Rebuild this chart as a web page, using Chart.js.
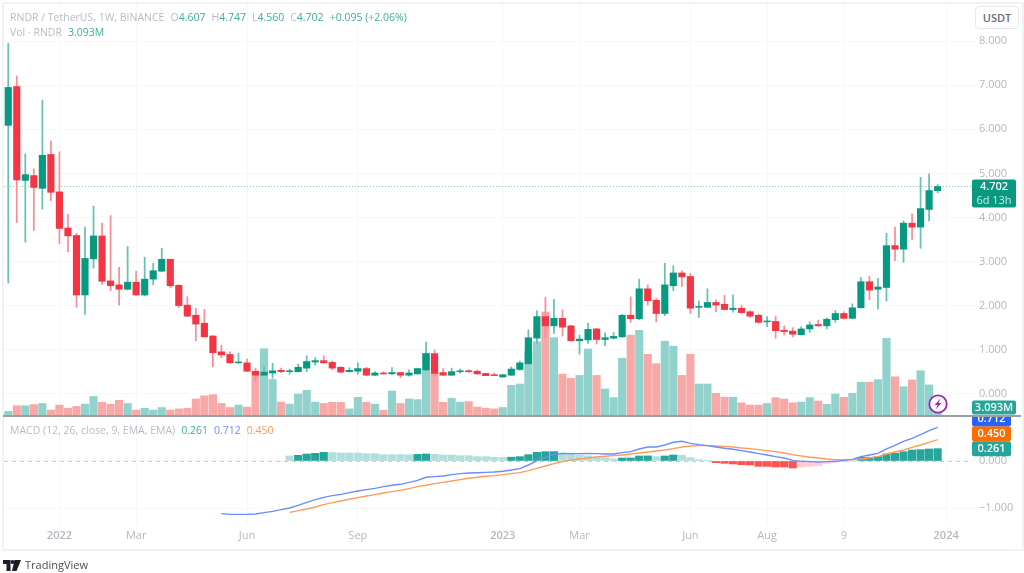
<!DOCTYPE html>
<html>
<head>
<meta charset="utf-8">
<title>RNDR / TetherUS</title>
<script src="https://cdn.jsdelivr.net/npm/chart.js@4"></script>
<style>
  html, body { margin: 0; padding: 0; background: #fff; overflow: hidden; }
  #page { position: relative; width: 1024px; height: 573px; font-family: "Open Sans", sans-serif; filter: blur(0.35px); }
  canvas { position: absolute; left: 0; }
  #priceChart { top: 0; }
  #macdChart { top: 416px; }
  .frame { position: absolute; left: 2px; top: 2px; width: 1018px; height: 545px; border: 2px solid #f1f2f5; box-sizing: content-box; }
  .sep { position: absolute; left: 3px; top: 415px; width: 1018px; height: 2px; background: #9b9ea5; }
  .legend { position: absolute; left: 10px; font-size: 10.5px; color: #b8bbc3; white-space: nowrap; }
  .legend b { font-weight: 400; color: #3fae9f; }
  .legend span { margin-left: 6px; }
  .usdt { position: absolute; left: 975px; top: 6px; width: 42px; height: 21px; line-height: 21px; text-align: center; font-size: 11px; font-weight: 600; color: #6a6d78; border: 1px solid #e6e8ee; border-radius: 4px; background: #fff; }
  .tv { position: absolute; left: 25px; top: 557px; font-size: 11px; color: #4a4e59; }
  svg { position: absolute; }
</style>
</head>
<body>
<div id="page">
  <canvas id="priceChart" width="1024" height="416"></canvas>
  <canvas id="macdChart" width="1024" height="133"></canvas>
  <div class="frame"></div>
  <div class="sep"></div>
  <div class="legend" style="top:10px">RNDR / TetherUS, 1W, BINANCE<span>O<b>4.607</b></span><span>H<b>4.747</b></span><span>L<b>4.560</b></span><span>C<b>4.702</b></span><span><b>+0.095 (+2.06%)</b></span></div>
  <div class="legend" style="top:25px">Vol · RNDR<span><b>3.093M</b></span></div>
  <div class="legend" style="top:423px">MACD (12, 26, close, 9, EMA, EMA)<span><b>0.261</b></span><span><b style="color:#6f8ffb">0.712</b></span><span><b style="color:#fb9a5b">0.450</b></span></div>
  <div class="usdt">USDT</div>
  <svg style="left:927px;top:393px" width="22" height="22" viewBox="0 0 22 22">
    <circle cx="11" cy="11" r="8.7" fill="#fff" stroke="#9c27b0" stroke-width="1.8"/>
    <path d="M13.5 5.5 L7.5 12 L10.6 12 L8.6 16.5 L14.5 10 L11.4 10 Z" fill="#9c27b0"/>
  </svg>
  <svg style="left:3px;top:560px" width="18" height="11" viewBox="0 0 36 22">
    <path d="M0 0 H15 V22 H7 V8 H0 Z M23 0 H36 L27 22 H18 Z" fill="#1b1e26"/><circle cx="19" cy="4" r="4" fill="#1b1e26"/>
  </svg>
  <div class="tv">TradingView</div>
</div>

<script>
// weekly candles
const opens = [6.09,6.97,4.84,4.95,4.66,5.43,4.58,3.76,3.59,2.24,
  3.06,3.58,2.56,2.47,2.37,2.53,2.24,2.60,2.78,3.05,
  2.46,2.01,1.78,1.60,1.31,.95,.89,.70,.70,.51,
  .42,.47,.53,.50,.50,.58,.72,.75,.71,.60,
  .50,.51,.57,.42,.47,.45,.48,.42,.45,.54,
  .91,.48,.42,.50,.52,.51,.46,.43,.38,.42,
  .55,.68,1.26,1.75,1.54,1.71,1.54,1.20,1.22,1.47,
  1.23,1.26,1.29,1.78,1.70,2.38,2.12,1.82,2.45,2.74,
  2.66,1.96,1.96,2.07,2.03,1.91,1.94,1.86,1.78,1.63,
  1.64,1.44,1.42,1.34,1.47,1.57,1.54,1.68,1.82,1.71,
  1.95,2.54,2.37,2.41,3.36,3.28,3.87,3.78,4.18,4.607];
const highs = [7.95,7.21,5.44,5.10,6.66,5.73,5.49,4.07,3.64,3.78,
  4.26,3.87,4.04,2.87,3.34,2.78,3.10,2.96,3.30,3.05,
  2.47,2.20,1.94,1.91,1.32,1.10,.95,.92,.79,.58,
  .61,.69,.58,.56,.67,.86,.82,.86,.74,.61,
  .59,.70,.60,.50,.50,.59,.48,.54,.58,1.17,
  .99,.57,.58,.56,.55,.54,.46,.47,.44,.61,
  .74,1.45,1.88,2.19,2.14,1.90,1.55,1.33,1.60,1.48,
  1.38,1.39,1.80,2.20,2.60,2.47,2.16,2.96,2.90,2.79,
  2.73,2.11,2.38,2.13,2.23,2.24,2.01,1.88,1.81,1.75,
  1.76,1.54,1.50,1.52,1.63,1.67,1.72,1.89,1.86,2.04,
  2.64,2.67,2.62,3.64,3.78,3.92,4.08,4.91,4.99,4.747];
const lows = [2.51,3.88,3.44,3.70,4.19,4.38,3.40,3.22,1.96,1.80,
  2.85,2.48,2.34,2.01,2.35,2.23,2.22,2.47,2.77,2.41,
  1.95,1.75,1.20,1.28,.61,.82,.69,.69,.50,.27,
  .41,.35,.48,.44,.49,.50,.65,.69,.54,.47,
  .49,.44,.41,.41,.44,.44,.36,.40,.44,.52,
  .39,.41,.41,.46,.48,.44,.41,.41,.37,.41,
  .53,.67,1.14,1.27,1.37,1.31,1.19,.90,1.14,1.13,
  1.09,1.24,1.28,1.62,1.68,2.01,1.63,1.77,2.34,2.43,
  1.82,1.73,1.95,1.86,1.90,1.85,1.82,1.73,1.60,1.52,
  1.26,1.33,1.29,1.33,1.39,1.53,1.47,1.62,1.70,1.70,
  1.94,2.13,1.92,2.10,3.02,2.98,3.49,3.30,3.92,4.56];
const closes = [6.95,4.85,4.97,4.68,5.41,4.57,3.75,3.58,2.24,3.07,
  3.58,2.55,2.45,2.37,2.53,2.24,2.60,2.79,3.05,2.45,
  2.00,1.76,1.58,1.29,.93,.88,.70,.72,.51,.42,
  .49,.52,.50,.52,.60,.73,.75,.70,.58,.49,
  .53,.57,.42,.47,.45,.48,.42,.47,.57,.91,
  .46,.42,.50,.52,.50,.45,.41,.41,.43,.56,
  .70,1.27,1.75,1.54,1.71,1.51,1.20,1.24,1.46,1.23,
  1.27,1.30,1.78,1.70,2.38,2.11,1.82,2.47,2.74,2.65,
  1.94,1.98,2.07,2.01,1.91,1.94,1.84,1.76,1.62,1.65,
  1.43,1.41,1.35,1.47,1.56,1.54,1.69,1.82,1.71,1.95,
  2.54,2.35,2.42,3.36,3.28,3.87,3.78,4.20,4.61,4.702];
// volume in millions
const volumes = [1.6,4.1,4.1,4.6,5.1,2.2,4.4,3.0,3.8,4.8,
  8.2,5.6,4.8,6.5,5.1,2.2,3.0,2.2,3.3,2.2,
  2.7,3.0,7.1,8.5,9.0,5.1,3.3,4.4,3.5,19.2,
  29.3,15.7,5.7,4.8,9.3,10.9,5.7,5.1,5.6,5.6,
  2.7,7.8,5.6,4.8,2.1,10.6,5.1,7.1,6.8,27.2,
  18.4,5.6,7.4,5.7,5.9,3.5,3.0,2.7,3.3,13.1,
  13.7,28.0,32.4,45.5,34.2,18.1,16.2,17.5,29.2,17.5,
  11.5,7.7,25.1,35.3,37.4,26.8,22.7,32.6,30.4,17.5,
  26.8,13.7,13.7,9.6,7.9,7.9,5.4,4.4,4.4,5.1,
  7.7,7.1,5.4,5.7,7.7,6.2,4.7,9.3,7.8,9.6,
  14.5,14.5,15.6,33.9,16.9,12.5,15.5,19.6,13.3,3.093];

// macd line starts at week 25, signal and histogram at week 33
const macdStart = 25;
const signalStart = 33;
const macdLine = [-1.113,-1.128,-1.128,-1.128,-1.12,
  -1.092,-1.064,-1.029,-.994,-.937,-.874,-.817,-.768,-.733,-.705,
  -.669,-.634,-.606,-.578,-.543,-.514,-.493,-.451,-.409,-.345,
  -.331,-.317,-.289,-.268,-.254,-.247,-.24,-.233,-.218,-.19,
  -.162,-.085,.007,.078,.141,.155,.155,.155,.162,.155,
  .148,.148,.176,.197,.254,.296,.296,.338,.395,.416,
  .373,.345,.324,.296,.268,.247,.218,.19,.155,.127,
  .092,.063,.014,-.007,-.014,-.021,-.014,-.007,.014,.035,
  .092,.127,.162,.254,.331,.416,.479,.557,.641,.712];
const signalLine = [-1.085,-1.05,-1.015,-.973,-.923,-.881,-.846,
  -.81,-.775,-.74,-.712,-.677,-.648,-.62,-.585,-.543,-.514,
  -.479,-.451,-.423,-.395,-.366,-.345,-.324,-.31,-.289,-.268,
  -.247,-.204,-.155,-.106,-.056,-.014,.021,.042,.063,.085,
  .099,.113,.127,.148,.169,.19,.211,.233,.261,.296,
  .317,.324,.324,.317,.31,.296,.275,.261,.24,.218,
  .197,.169,.134,.106,.078,.063,.042,.028,.028,.028,
  .042,.063,.092,.148,.19,.233,.289,.338,.395,.45];
const histogram = [.106,.12,.148,.162,.183,.18,.169,
  .169,.168,.155,.155,.134,.134,.134,.13,.14,.148,
  .141,.127,.127,.113,.113,.092,.092,.078,.078,.08,
  .092,.134,.183,.197,.198,.176,.148,.127,.106,.085,
  .07,.042,.063,.064,.106,.108,.092,.106,.127,.12,
  .07,.028,.014,-.035,-.05,-.063,-.078,-.085,-.113,-.114,
  -.127,-.128,-.148,-.127,-.113,-.099,-.05,-.028,-.014,-.004,
  .078,.079,.092,.148,.162,.197,.232,.24,.254,.261];

const weekCount = 114; // a few empty weeks right of the last candle
const tickWeeks = [6,15,28,41,58,67,80,89,98,110];
const tickNames = ["2022","Mar","Jun","Sep","2023","Mar","Jun","Aug","9","2024"];
const priceTicks = [0,1,2,3,4,5,6,7,8];
const macdTicks = [0,-1];

const UP = "#089981", DOWN = "#f23645";
const GRID = "#f6f7f9", AXIS_TEXT = "#b4b7c0";
const AXIS_FONT = {family: "'Open Sans', sans-serif", size: 11};

let labels = [];
for (let i = 0; i < weekCount; i++) {
    const at = tickWeeks.indexOf(i);
    labels.push(at >= 0 ? tickNames[at] : "");
}

function pad(values, start) {
    return new Array(start).fill(null).concat(values);
}

/** floating bar pairs, used for candle bodies and wicks */
function pairs(a, b) {
    return a.map((v, i) => [v, b[i]]);
}

const isUp = opens.map((o, i) => closes[i] >= o);

/** dark while the histogram is growing away from zero, light otherwise */
function histColors(values) {
    return values.map((v, i) => {
        const prev = i ? values[i - 1] : v;
        if (v >= 0) return v > prev ? "#26a69a" : "#b2dfdb";
        return v < prev ? "#ff5252" : "#ffcdd2";
    });
}

/** dotted or dashed horizontal level plus the coloured value tags on the axis */
const levelsAndTags = {
    id: "levelsAndTags",
    beforeDatasetsDraw(chart, args, opts) {
        const ctx = chart.ctx;
        ctx.save();
        ctx.setLineDash(opts.level.dash);
        ctx.strokeStyle = opts.level.color;
        ctx.lineWidth = 1;
        const y = Math.round(chart.scales.y.getPixelForValue(opts.level.value)) + 0.5;
        ctx.beginPath();
        ctx.moveTo(chart.chartArea.left, y);
        ctx.lineTo(972, y);
        ctx.stroke();
        ctx.restore();
    },
    afterDraw(chart, args, opts) {
        const ctx = chart.ctx;
        ctx.save();
        ctx.textAlign = "center";
        ctx.textBaseline = "middle";
        opts.tags.forEach(t => {
            const y = chart.scales[t.axis].getPixelForValue(t.value) + t.shift;
            ctx.fillStyle = t.color;
            ctx.beginPath();
            ctx.roundRect(972, y - t.above, t.width, t.above + t.below, 2);
            ctx.fill();
            ctx.fillStyle = "#fff";
            ctx.font = "600 11px 'Open Sans', sans-serif";
            ctx.fillText(t.text, 972 + t.width / 2, y);
            if (t.sub) {
                ctx.globalAlpha = 0.8;
                ctx.font = "400 11px 'Open Sans', sans-serif";
                ctx.fillText(t.sub, 972 + t.width / 2, y + 14);
                ctx.globalAlpha = 1;
            }
        });
        ctx.restore();
    }
};

function xAxis(showLabels) {
    return {
        type: "category",
        offset: true,
        afterBuildTicks: scale => {
            scale.ticks = scale.ticks.filter(t => tickWeeks.includes(t.value));
        },
        afterFit: scale => {
            scale.height = showLabels ? 24 : 0;
            scale.paddingLeft = 0;
            scale.paddingRight = 0;
        },
        border: {display: false},
        grid: {color: GRID, offset: false, drawTicks: false},
        ticks: {
            display: showLabels,
            autoSkip: false,
            maxRotation: 0,
            padding: 4,
            color: AXIS_TEXT,
            font: ctx => {
                const name = String(ctx.tick && ctx.tick.label);
                return {...AXIS_FONT, weight: name.length === 4 ? "600" : "400"};
            }
        }
    };
}

function yAxis(min, max, values) {
    return {
        position: "right",
        min: min,
        max: max,
        afterBuildTicks: scale => { scale.ticks = values.map(v => ({value: v})); },
        afterFit: scale => {
            scale.width = 48;
            // no room needed for half a label at the ends, the ticks sit inside the pane
            scale.paddingTop = 0;
            scale.paddingBottom = 0;
        },
        border: {display: false},
        grid: {color: GRID, drawTicks: false},
        ticks: {
            padding: 3,
            color: AXIS_TEXT,
            font: AXIS_FONT,
            callback: v => (v < 0 ? "\u2212" + (-v).toFixed(3) : v.toFixed(3))
        }
    };
}

new Chart(document.getElementById("priceChart"), {
    type: "bar",
    data: {
        labels: labels,
        datasets: [
            {
                label: "Body",
                data: pairs(opens, closes),
                backgroundColor: isUp.map(u => (u ? UP : DOWN)),
                barThickness: 6.5,
                grouped: false,
                order: 1
            },
            {
                label: "Wick",
                data: pairs(lows, highs),
                backgroundColor: isUp.map(u => (u ? "#66c2b2" : "#f98f98")),
                barThickness: 1.1,
                grouped: false,
                order: 2
            },
            {
                label: "Vol",
                data: volumes,
                yAxisID: "vol",
                backgroundColor: isUp.map(u => (u ? "#92d2cc" : "#f7a9a7")),
                barThickness: 7.5,
                grouped: false,
                order: 3
            }
        ]
    },
    plugins: [levelsAndTags],
    options: {
        responsive: false,
        animation: false,
        layout: {padding: {left: 4, top: 3, right: 0, bottom: 0}},
        scales: {
            x: xAxis(false),
            y: yAxis(-0.506, 8.866, priceTicks),
            vol: {display: false, position: "left", min: -0.44, max: 182.1}
        },
        plugins: {
            legend: {display: false},
            tooltip: {enabled: false},
            levelsAndTags: {
                level: {value: 4.702, color: "#7fcdbf", dash: [1, 2]},
                tags: [
                    {axis: "y", value: 4.702, text: "4.702", sub: "6d 13h", color: UP, width: 44, shift: 0, above: 7, below: 21},
                    {axis: "vol", value: 3.093, text: "3.093M", color: "#26a69a", width: 44, shift: 0, above: 7.5, below: 6.5}
                ]
            }
        }
    }
});

new Chart(document.getElementById("macdChart"), {
    type: "bar",
    data: {
        labels: labels,
        datasets: [
            {
                type: "line",
                label: "MACD",
                data: pad(macdLine, macdStart),
                borderColor: "#6a8dff",
                borderWidth: 1.4,
                pointRadius: 0,
                order: 1
            },
            {
                type: "line",
                label: "Signal",
                data: pad(signalLine, signalStart),
                borderColor: "#ff9c5c",
                borderWidth: 1.4,
                pointRadius: 0,
                order: 2
            },
            {
                label: "Histogram",
                data: pad(histogram, signalStart),
                backgroundColor: pad(histColors(histogram), signalStart),
                barThickness: 7.5,
                grouped: false,
                order: 3
            }
        ]
    },
    plugins: [levelsAndTags],
    options: {
        responsive: false,
        animation: false,
        layout: {padding: {left: 4, top: 0, right: 0, bottom: 0}},
        scales: {
            x: xAxis(true),
            y: yAxis(-1.353, 0.951, macdTicks)
        },
        plugins: {
            legend: {display: false},
            tooltip: {enabled: false},
            levelsAndTags: {
                level: {value: 0, color: "#c9ccd3", dash: [4, 4]},
                tags: [
                    {axis: "y", value: 0.261, text: "0.261", color: "#26a69a", width: 39, shift: 0, above: 7.5, below: 7.5},
                    {axis: "y", value: 0.261, text: "0.450", color: "#ff6d00", width: 39, shift: -15, above: 7.5, below: 7.5},
                    {axis: "y", value: 0.261, text: "0.712", color: "#2962ff", width: 39, shift: -30, above: 7.5, below: 7.5}
                ]
            }
        }
    }
});
</script>
</body>
</html>
